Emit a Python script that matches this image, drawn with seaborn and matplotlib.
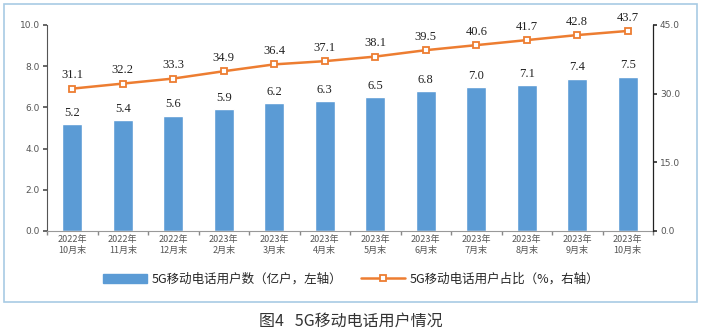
import matplotlib
matplotlib.use("Agg")
import matplotlib.pyplot as plt
import seaborn as sns
import pandas as pd
from matplotlib.patches import Rectangle

sns.set_theme(style="white")
plt.rcParams['font.family'] = ['Noto Sans CJK SC', 'DejaVu Sans']

categories = ["2022年\n10月末", "2022年\n11月末", "2022年\n12月末", "2023年\n2月末",
              "2023年\n3月末", "2023年\n4月末", "2023年\n5月末", "2023年\n6月末",
              "2023年\n7月末", "2023年\n8月末", "2023年\n9月末", "2023年\n10月末"]
users = [5.2, 5.4, 5.6, 5.9, 6.2, 6.3, 6.5, 6.8, 7.0, 7.1, 7.4, 7.5]
share = [31.1, 32.2, 33.3, 34.9, 36.4, 37.1, 38.1, 39.5, 40.6, 41.7, 42.8, 43.7]
left_ticks = [0, 2, 4, 6, 8, 10]
right_ticks = [0, 15, 30, 45]
bar_label = "5G移动电话用户数（亿户，左轴）"
line_label = "5G移动电话用户占比（%，右轴）"
caption = "图4   5G移动电话用户情况"

bar_color = "#5B9BD5"
line_color = "#ED7D31"

df = pd.DataFrame({"cat": categories, "users": users, "share": share, "x": range(len(categories))})

fig = plt.figure(figsize=(7.02, 3.34), dpi=100)
ax = fig.add_axes([47/702, 1-231/334, (653-47)/702, (231-25)/334])

sns.barplot(data=df, x="cat", y="users", color=bar_color, width=0.4, ax=ax,
            saturation=1, label=bar_label, legend=False)
ax.set_xlim(-0.5, len(categories)-0.5)
ax.set_ylim(0, 10)
ax.set_yticks(left_ticks)
ax.set_yticklabels([f"{v:.1f}" for v in left_ticks], fontsize=6.5, color="#555555",
                   family=["DejaVu Sans"])
ax.set_xlabel("")
ax.set_ylabel("")
ax.set_xticks(range(len(categories)))
ax.set_xticklabels(categories, fontsize=6.5, color="#555555", linespacing=1.2)
ax.tick_params(axis="x", length=0, pad=3)
ax.tick_params(axis="y", length=3, direction="out", color="#555555", pad=2, left=True)
# boundary ticks on x axis
ax.set_xticks([i - 0.5 for i in range(len(categories)+1)], minor=True)
ax.tick_params(axis="x", which="minor", length=3, direction="out", color="#888888", bottom=True)
for s in ["top", "right"]:
    ax.spines[s].set_visible(False)
ax.spines["left"].set_color("#555555")
ax.spines["bottom"].set_color("#999999")
ax.spines["left"].set_linewidth(0.8)
ax.spines["bottom"].set_linewidth(0.8)

for i, v in enumerate(users):
    ax.text(i, v + 0.25, f"{v:.1f}", ha="center", va="bottom", fontsize=9,
            family=["Liberation Serif"], color="#222222")

ax2 = ax.twinx()
sns.lineplot(data=df, x="x", y="share", ax=ax2, color=line_color, linewidth=1.8,
             marker="s", markersize=5, markerfacecolor="white", markeredgecolor=line_color,
             markeredgewidth=1.3, label=line_label, legend=False)
ax2.set_ylim(0, 45)
ax2.set_yticks(right_ticks)
ax2.set_yticklabels([f"{v:.1f}" for v in right_ticks], fontsize=6.5, color="#555555",
                    family=["DejaVu Sans"])
ax2.set_ylabel("")
ax2.set_xlim(-0.5, len(categories)-0.5)
ax2.tick_params(axis="y", length=3, direction="out", color="#333333", pad=2, right=True)
for s in ["top", "left", "bottom"]:
    ax2.spines[s].set_visible(False)
ax2.spines["right"].set_color("#222222")
ax2.spines["right"].set_linewidth(0.9)
for i, v in enumerate(share):
    ax2.text(i, v + 1.6, f"{v:.1f}", ha="center", va="bottom", fontsize=9,
             family=["Liberation Serif"], color="#222222")

h1 = Rectangle((0, 0), 1, 1, color=bar_color)
h2 = plt.Line2D([], [], color=line_color, linewidth=1.8, marker="s", markersize=5,
                markerfacecolor="white", markeredgecolor=line_color, markeredgewidth=1.3)
fig.legend([h1, h2], [bar_label, line_label], loc="center", bbox_to_anchor=(0.5, 1-279/334),
           ncol=2, frameon=False, fontsize=9, handlelength=3.5, columnspacing=1.5,
           handletextpad=0.4)

fig.patches.append(Rectangle((4/702, 1-302/334), (697-4)/702, (302-4)/334,
                             transform=fig.transFigure, fill=False,
                             edgecolor="#A8CBE4", linewidth=1.2))
fig.text(0.5, 1-321/334, caption, ha="center", va="center", fontsize=11.5, color="#333333")

fig.savefig("out.png", dpi=100)
